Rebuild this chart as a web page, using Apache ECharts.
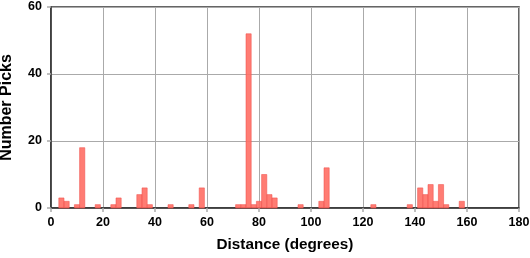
<!DOCTYPE html>
<html>
<head>
<meta charset="utf-8">
<script src="https://cdn.jsdelivr.net/npm/echarts@6/dist/echarts.min.js"></script>
<style>html,body{margin:0;padding:0;background:#fff}#c{width:530px;height:258px}</style>
</head>
<body>
<div id="c"></div>
<script>
// bin centers (degrees), bin width 2
const binCenters = [4, 6, 10, 12, 18, 24, 26, 34, 36, 38, 46, 54, 58, 72, 74, 76, 78, 80, 82, 84, 86, 96, 104, 106, 124, 138, 142, 144, 146, 148, 150, 152, 158];
const pickCounts = [3, 2, 1, 18, 1, 1, 3, 4, 6, 1, 1, 1, 6, 1, 1, 52, 1, 2, 10, 4, 3, 1, 2, 12, 1, 1, 6, 4, 7, 2, 7, 1, 2];
const binWidth = 2;
const xTicks = [0, 20, 40, 60, 80, 100, 120, 140, 160, 180];
const yTicks = [0, 20, 40, 60];

const data = binCenters.map((c, i) => [c, pickCounts[i]]);
const chart = echarts.init(document.getElementById('c'), null, {renderer: 'canvas'});
const font = '"Liberation Sans", Arial, Helvetica, sans-serif';
chart.setOption({
  animation: false,
  grid: {left: 51, right: 11, top: 7, bottom: 50, outerBoundsMode: 'none', containLabel: false, show: true, borderColor: '#333', borderWidth: 1.5, backgroundColor: 'transparent'},
  xAxis: {
    type: 'value', min: 0, max: 180, interval: 20,
    name: 'Distance (degrees)', nameLocation: 'middle', nameGap: 29,
    nameTextStyle: {fontFamily: font, fontWeight: 'bold', fontSize: 15.3, color: '#000'},
    axisLine: {show: true, lineStyle: {color: '#333', width: 1.5}},
    axisTick: {show: true, length: 4, lineStyle: {color: '#aaa', width: 1.5}},
    axisLabel: {margin: 8, fontFamily: font, fontWeight: 'bold', fontSize: 12.5, color: '#000'},
    splitLine: {show: true, lineStyle: {color: '#aaa', width: 1}}
  },
  yAxis: {
    type: 'value', min: 0, max: 60, interval: 20,
    name: 'Number Picks', nameLocation: 'middle', nameGap: 36,
    nameTextStyle: {fontFamily: font, fontWeight: 'bold', fontSize: 16, color: '#000'},
    axisLine: {show: true, lineStyle: {color: '#333', width: 1.5}},
    axisTick: {show: true, length: 4, lineStyle: {color: '#aaa', width: 1.5}},
    axisLabel: {margin: 9, fontFamily: font, fontWeight: 'bold', fontSize: 12.5, color: '#000'},
    splitLine: {show: true, lineStyle: {color: '#aaa', width: 1}}
  },
  series: [{
    type: 'custom',
    data: data,
    renderItem: function (params, api) {
      const c = api.value(0), v = api.value(1);
      const p0 = api.coord([c - binWidth / 2, v]);
      const p1 = api.coord([c + binWidth / 2, 0]);
      return {
        type: 'rect',
        shape: {x: p0[0], y: p0[1], width: p1[0] - p0[0], height: p1[1] - p0[1]},
        style: {fill: 'rgba(255,110,100,0.9)', stroke: 'rgba(240,80,75,0.9)', lineWidth: 0.6}
      };
    },
    encode: {x: 0, y: 1},
    z: 3
  }]
});
</script>
</body>
</html>
